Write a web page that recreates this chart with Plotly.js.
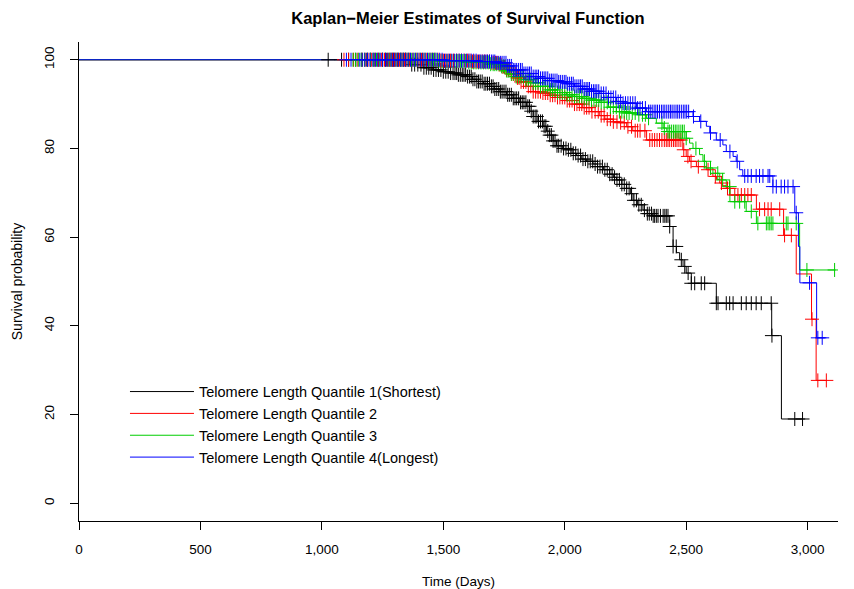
<!DOCTYPE html>
<html><head><meta charset="utf-8">
<script src="https://cdn.plot.ly/plotly-3.0.1.min.js"></script>
<style>html,body{margin:0;padding:0;background:#fff}</style>
</head><body><div id="chart" style="width:854px;height:589px"></div>
<script>
// ---- data ----
const groupNames = [
  "Telomere Length Quantile 1(Shortest)",
  "Telomere Length Quantile 2",
  "Telomere Length Quantile 3",
  "Telomere Length Quantile 4(Longest)"
];
const groupColors = ["#000000", "#FF0000", "#00CD00", "#0000FF"];

// survival step curves: [time (days), survival probability (%)]
const curveQ1 = [[0,100],[1300,100],[1362,98.9],[1420,98.2],[1457,97.7],[1500,97.3],[1527,97.0],[1560,96.6],[1595,96.2],[1620,95.6],[1637,95.1],[1665,94.6],[1691,94.0],[1710,93.4],[1733,92.8],[1760,92.1],[1787,91.3],[1815,90.4],[1842,89.5],[1856,88.4],[1870,87.2],[1890,86.1],[1911,85.0],[1925,83.9],[1938,83.0],[1952,81.7],[1966,80.6],[1990,80.0],[2007,79.7],[2030,78.9],[2048,78.4],[2070,77.6],[2089,77.1],[2116,76.5],[2135,75.9],[2160,75.2],[2185,74.2],[2200,73.5],[2213,72.9],[2235,71.9],[2254,71.0],[2270,69.8],[2281,68.3],[2300,67.3],[2322,66.1],[2340,65.3],[2360,64.8],[2432,62.4],[2446,57.9],[2460,56.5],[2473,54.9],[2487,53.4],[2500,51.9],[2521,49.6],[2624,45.1],[2852,37.8],[2892,19.0],[2990,19.0]];
const curveQ2 = [[0,100],[1380,100],[1480,99.8],[1620,99.6],[1700,99.3],[1730,98.9],[1745,98.4],[1760,97.7],[1780,96.8],[1800,95.9],[1820,95.0],[1842,94.0],[1870,92.8],[1910,92.5],[1938,92.0],[1970,91.5],[2007,90.8],[2040,90.0],[2074,89.2],[2110,88.3],[2144,87.4],[2165,86.6],[2200,86.0],[2226,85.8],[2255,84.9],[2280,84.0],[2337,81.9],[2486,79.7],[2500,78.2],[2514,77.1],[2542,75.9],[2583,75.2],[2600,74.3],[2610,73.7],[2625,73.0],[2638,72.2],[2650,71.6],[2665,71.0],[2680,69.5],[2789,66.3],[2901,60.4],[2953,51.7],[3016,41.5],[3035,27.7],[3077,27.7]];
const curveQ3 = [[0,100],[1360,100],[1480,99.7],[1600,99.4],[1690,99.0],[1733,98.5],[1760,97.5],[1780,96.8],[1800,96.2],[1835,95.5],[1870,94.8],[1900,94.0],[1938,93.2],[1970,92.6],[2007,92.1],[2040,91.7],[2074,91.3],[2110,90.9],[2144,90.4],[2180,89.3],[2213,88.3],[2250,88.0],[2300,87.6],[2337,86.8],[2377,85.7],[2405,84.6],[2420,83.8],[2500,82.3],[2514,81.2],[2528,80.0],[2555,78.6],[2569,77.1],[2583,75.6],[2610,74.4],[2638,72.9],[2665,71.4],[2680,68.0],[2747,65.8],[2789,63.1],[2967,52.6],[3115,52.6]];
const curveQ4 = [[0,100],[1370,100],[1500,99.8],[1640,99.6],[1720,99.3],[1760,98.6],[1787,97.7],[1830,96.9],[1870,96.2],[1900,95.8],[1938,95.3],[1970,95.0],[2007,94.6],[2040,94.0],[2074,93.4],[2110,92.9],[2144,92.4],[2180,91.5],[2213,90.6],[2240,90.2],[2295,89.1],[2337,88.3],[2528,87.2],[2555,86.1],[2583,85.0],[2597,83.5],[2624,81.9],[2651,80.8],[2665,79.3],[2693,78.2],[2706,77.1],[2720,75.2],[2733,73.8],[2857,71.4],[2947,65.5],[2962,57.9],[2968,49.7],[3037,37.3],[3077,37.3]];

// censoring times (days)
const censorQ1 = [1026,1081,1140,1185,1215,1250,1280,1300,1325,1345,1370,1395,1420,1440,1460,1480,1500,1520,1540,1555,1570,1585,1600,1615,1630,1645,1660,1675,1690,1705,1720,1735,1750,1765,1780,1795,1810,1825,1840,1855,1870,1885,1900,1915,1930,1945,1960,1975,1995,2015,2035,2055,2075,2095,2115,2135,2155,2175,2195,2215,2235,2255,2275,2295,2315,2340,2357,2370,2384,2405,2418,2425,2446,2459,2480,2494,2508,2521,2535,2562,2576,2624,2631,2665,2679,2693,2727,2747,2768,2788,2809,2850,2853,2947,2979,
  1110,1165,1200,1232,1265,1290,1312,1335,1358,1382,1408,1430,1450,1470,1490,1510,1530,1548,1562,1578,1592,1608,1622,1638,1652,1668,1682,1698,1712,1728,1742,1758,1772,1788,1802,1818,1832,1848,1862,1878,1892,1908,1922,1938,1952,1968,1985,2005,2025,2045,2065,2085,2105,2125,2145,2165,2185,2205,2225,2245,2265,2285,2305,2328,2348,2364,2377,2394,2412,2432];
const censorQ2 = [1091,1130,1165,1190,1220,1245,1270,1290,1310,1330,1350,1375,1400,1420,1445,1465,1490,1510,1530,1555,1575,1600,1620,1640,1660,1680,1700,1715,1730,1745,1760,1775,1790,1805,1820,1840,1860,1880,1900,1920,1940,1960,1980,2000,2020,2040,2060,2080,2100,2125,2150,2175,2200,2230,2260,2290,2310,2350,2370,2390,2410,2425,2440,2455,2470,2490,2507,2520,2550,2590,2620,2645,2670,2679,2700,2713,2727,2741,2754,2768,2802,2823,2837,2850,2885,2905,2933,3018,3042,3077,
  1110,1148,1178,1205,1232,1258,1280,1300,1320,1340,1362,1388,1410,1432,1455,1478,1500,1520,1542,1565,1588,1610,1630,1650,1670,1690,1708,1722,1738,1752,1768,1782,1798,1812,1830,1850,1870,1890,1910,1930,1950,1970,1990,2010,2030,2050,2070,2090,2112,2138,2162,2188,2215,2245,2275,2300,2330,2360,2380,2400,2418,2432,2448,2462,2478];
const censorQ3 = [1128,1150,1175,1200,1225,1250,1275,1295,1315,1335,1355,1380,1405,1425,1450,1470,1495,1515,1535,1560,1580,1605,1625,1645,1665,1685,1705,1720,1740,1755,1770,1790,1810,1830,1850,1870,1890,1910,1930,1950,1970,1990,2010,2030,2050,2070,2090,2110,2130,2150,2175,2200,2225,2245,2265,2290,2320,2345,2400,2425,2440,2455,2470,2485,2500,2540,2575,2600,2630,2650,2679,2700,2720,2741,2768,2795,2830,2837,2844,2850,2857,2912,2919,2953,2997,3111,
  1138,1162,1188,1212,1238,1262,1285,1305,1325,1345,1368,1392,1415,1438,1460,1482,1505,1525,1548,1570,1592,1615,1635,1655,1675,1695,1712,1730,1748,1762,1780,1800,1820,1840,1860,1880,1900,1920,1940,1960,1980,2000,2020,2040,2060,2080,2100,2120,2140,2162,2188,2212,2235,2255,2278,2305,2332,2410,2432,2448,2462,2478,2492];
const censorQ4 = [1101,1156,1177,1198,1220,1240,1262,1285,1305,1325,1345,1365,1385,1405,1425,1445,1465,1485,1505,1525,1545,1565,1585,1605,1625,1645,1660,1675,1690,1705,1720,1735,1750,1765,1780,1795,1810,1825,1840,1855,1870,1885,1900,1915,1930,1945,1960,1975,1990,2005,2020,2035,2050,2065,2080,2095,2110,2125,2140,2160,2180,2200,2220,2240,2260,2280,2300,2320,2345,2360,2375,2390,2405,2420,2435,2450,2465,2480,2495,2510,2530,2560,2600,2640,2680,2710,2741,2754,2768,2788,2802,2816,2837,2844,2857,2871,2891,2905,2919,2940,2953,3008,3042,3060,
  1120,1166,1188,1210,1230,1250,1272,1295,1315,1335,1355,1375,1395,1415,1435,1455,1475,1495,1515,1535,1555,1575,1595,1615,1635,1652,1668,1682,1698,1712,1728,1742,1758,1772,1788,1802,1818,1832,1848,1862,1878,1892,1908,1922,1938,1952,1968,1982,1998,2012,2028,2042,2058,2072,2088,2102,2118,2132,2150,2170,2190,2210,2230,2250,2270,2290,2310,2332,2352,2368,2382,2398,2412,2428,2442,2458,2472,2488,2502];

const xTickVals = [0,500,1000,1500,2000,2500,3000];
const yTickVals = [0,20,40,60,80,100];

// ---- build traces ----
const curves = [curveQ1, curveQ2, curveQ3, curveQ4];
const censors = [censorQ1, censorQ2, censorQ3, censorQ4];

function survivalAt(curve, t) {
  let s = curve[0][1];
  for (const p of curve) { if (p[0] <= t) s = p[1]; else break; }
  return s;
}

const traces = [];
curves.forEach((c, i) => {
  traces.push({
    type: "scatter", mode: "lines", name: groupNames[i],
    x: c.map(p => p[0]), y: c.map(p => p[1]),
    line: {color: groupColors[i], width: 1, shape: "hv"},
    legendgroup: "g" + i, hoverinfo: "x+y"
  });
});
censors.forEach((ct, i) => {
  traces.push({
    type: "scatter", mode: "markers", showlegend: false,
    x: ct, y: ct.map(t => survivalAt(curves[i], t)),
    marker: {symbol: "cross-thin", size: 10, color: groupColors[i],
             line: {color: groupColors[i], width: 1}},
    legendgroup: "g" + i, hoverinfo: "x+y"
  });
});

const font = "Liberation Sans, Arial, Helvetica, sans-serif";
const layout = {
  width: 854, height: 589,
  margin: {l: 79, r: 15.6, t: 42.3, b: 68.3},
  paper_bgcolor: "#ffffff", plot_bgcolor: "#ffffff",
  font: {family: font, size: 13, color: "#000"},
  title: {text: "Kaplan\u2212Meier Estimates of Survival Function",
          font: {family: font, size: 16.5, color: "#000", weight: "bold"},
          x: 0.548, xref: "container", xanchor: "center",
          y: 1 - 18/589, yref: "container", yanchor: "middle"},
  xaxis: {
    range: [0, 3125], showgrid: false, zeroline: false,
    showline: true, linecolor: "#000", linewidth: 1,
    ticks: "outside", ticklen: 8, tickcolor: "#000", tickwidth: 1,
    tickvals: xTickVals, tickformat: ",d", ticklabelstandoff: 8,
    tickfont: {family: font, size: 13.5, color: "#000"},
    title: {text: "Time (Days)", font: {family: font, size: 13.5, color: "#000"}, standoff: 20},
    automargin: false
  },
  yaxis: {
    range: [-4, 104], showgrid: false, zeroline: false,
    showline: true, linecolor: "#000", linewidth: 1,
    ticks: "outside", ticklen: 8, tickcolor: "#000", tickwidth: 1,
    tickvals: yTickVals, tickangle: -90, ticklabelstandoff: 11,
    tickfont: {family: font, size: 13.5, color: "#000"},
    title: {text: "Survival probability", font: {family: font, size: 14, color: "#000"}, standoff: 15},
    automargin: false
  },
  showlegend: true,
  legend: {
    x: (125 - 79) / 759.4, y: 0.3035, xanchor: "left", yanchor: "top",
    bgcolor: "rgba(0,0,0,0)", borderwidth: 0,
    font: {family: font, size: 14.5, color: "#000"},
    itemwidth: 64, tracegroupgap: 0, traceorder: "grouped"
  }
};

Plotly.newPlot("chart", traces, layout, {displayModeBar: false, staticPlot: true});
</script></body></html>
